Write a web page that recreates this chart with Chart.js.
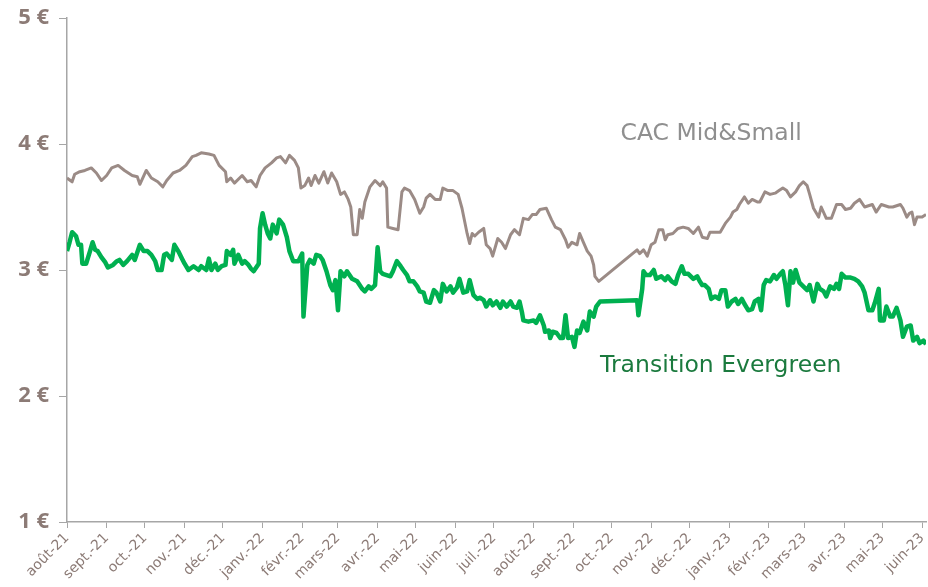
<!DOCTYPE html>
<html>
<head>
<meta charset="utf-8">
<script src="https://cdn.jsdelivr.net/npm/chart.js@4"></script>
<style>
  html, body { margin: 0; padding: 0; background: #fff; }
  #wrap { width: 928px; height: 587px; }
</style>
</head>
<body>
<div id="wrap"><canvas id="chart"></canvas></div>
<script>
// x = jours depuis le 1er août 2021
const monthDays = [0, 31, 61, 92, 122, 153, 184, 212, 243, 273, 304, 334, 365, 396, 426, 457, 487, 518, 549, 577, 608, 638, 669];
const monthLabels = ['août-21', 'sept.-21', 'oct.-21', 'nov.-21', 'déc.-21', 'janv.-22', 'févr.-22', 'mars-22', 'avr.-22', 'mai-22', 'juin-22',
  'juil.-22', 'août-22', 'sept.-22', 'oct.-22', 'nov.-22', 'déc.-22', 'janv.-23', 'févr.-23', 'mars-23', 'avr.-23', 'mai-23', 'juin-23'];
const yTicks = [1, 2, 3, 4, 5];

const cacDays = [0, 4, 6, 10, 14, 19, 23, 27, 31, 35, 40, 45, 51, 55, 57, 62, 66, 71, 75, 78, 83, 88, 93, 98, 101, 105, 111, 115, 119, 124,
  125, 128, 131, 137, 141, 144, 148, 151, 155, 160, 164, 167, 171, 174, 178, 181, 183, 186, 189, 191, 194, 197, 201, 204, 207, 211,
  214, 217, 220, 222, 224, 227, 229, 231, 233, 237, 241, 245, 247, 250, 251, 255, 259, 262, 264, 268, 272, 276, 279, 281, 284, 288,
  292, 294, 298, 302, 306, 309, 313, 315, 317, 319, 322, 326, 328, 331, 333, 337, 340, 343, 347, 350, 354, 357, 361, 364, 367, 370,
  375, 379, 382, 386, 390, 392, 395, 399, 401, 404, 407, 410, 412, 413, 416, 446, 448, 451, 454, 457, 460, 463, 466, 468, 470, 474,
  478, 482, 486, 490, 494, 497, 501, 503, 507, 511, 515, 519, 521, 524, 526, 530, 533, 536, 540, 542, 546, 550, 554, 557, 560, 563,
  566, 570, 573, 576, 579, 581, 584, 588, 590, 594, 598, 602, 606, 609, 613, 616, 620, 624, 630, 633, 637, 643, 646, 652, 654, 657,
  659, 661, 663, 665, 669, 672];
const cacValues = [3.73, 3.70, 3.76, 3.78, 3.79, 3.81, 3.77, 3.71, 3.75, 3.81, 3.83, 3.79, 3.75, 3.74, 3.68, 3.79, 3.73, 3.70, 3.66, 3.71,
  3.77, 3.79, 3.83, 3.90, 3.91, 3.93, 3.92, 3.91, 3.83, 3.78, 3.70, 3.73, 3.69, 3.75, 3.70, 3.71, 3.66, 3.75, 3.81, 3.85, 3.89, 3.90,
  3.85, 3.91, 3.87, 3.81, 3.65, 3.67, 3.73, 3.67, 3.75, 3.69, 3.78, 3.69, 3.77, 3.70, 3.60, 3.62, 3.56, 3.50, 3.28, 3.28, 3.48, 3.41,
  3.54, 3.66, 3.71, 3.67, 3.70, 3.65, 3.34, 3.33, 3.32, 3.62, 3.65, 3.63, 3.56, 3.45, 3.50, 3.57, 3.60, 3.56, 3.56, 3.65, 3.63, 3.63,
  3.60, 3.49, 3.29, 3.21, 3.29, 3.27, 3.30, 3.33, 3.20, 3.17, 3.11, 3.25, 3.22, 3.17, 3.28, 3.32, 3.28, 3.41, 3.40, 3.44, 3.44, 3.48,
  3.49, 3.40, 3.34, 3.32, 3.24, 3.18, 3.22, 3.20, 3.29, 3.22, 3.15, 3.11, 3.04, 2.95, 2.91, 3.16, 3.13, 3.16, 3.11, 3.20, 3.22, 3.32,
  3.32, 3.24, 3.28, 3.29, 3.33, 3.34, 3.33, 3.29, 3.34, 3.26, 3.25, 3.30, 3.30, 3.30, 3.37, 3.42, 3.46, 3.48, 3.52, 3.58, 3.53, 3.56,
  3.54, 3.54, 3.62, 3.60, 3.61, 3.63, 3.65, 3.63, 3.58, 3.62, 3.67, 3.70, 3.67, 3.60, 3.49, 3.42, 3.50, 3.41, 3.41, 3.52, 3.52, 3.48,
  3.49, 3.53, 3.56, 3.50, 3.52, 3.46, 3.52, 3.50, 3.50, 3.52, 3.49, 3.42, 3.45, 3.46, 3.36, 3.42, 3.42, 3.44];

const evgDays = [0, 2, 4, 7, 9, 11, 12, 15, 18, 20, 22, 24, 27, 30, 32, 36, 39, 41, 44, 47, 51, 53, 57, 60, 63, 66, 69, 71, 74, 76, 78,
  82, 84, 87, 90, 92, 95, 99, 103, 105, 109, 111, 113, 116, 118, 121, 124, 125, 128, 130, 131, 134, 137, 139, 142, 144, 146, 150, 151,
  153, 155, 157, 159, 161, 164, 166, 169, 172, 174, 177, 181, 184, 185, 188, 190, 193, 195, 198, 200, 203, 206, 208, 210, 212, 214,
  217, 219, 223, 227, 231, 233, 236, 238, 241, 243, 245, 247, 250, 253, 255, 258, 261, 263, 266, 268, 271, 274, 276, 279, 281, 284,
  287, 289, 292, 294, 297, 300, 302, 305, 307, 310, 313, 315, 318, 321, 323, 326, 328, 331, 333, 336, 339, 341, 344, 347, 349, 352,
  354, 356, 357, 361, 365, 367, 370, 373, 374, 377, 378, 380, 383, 386, 388, 390, 392, 395, 397, 399, 401, 404, 407, 409, 412, 414,
  417, 446, 447, 450, 451, 453, 456, 459, 461, 465, 468, 470, 473, 476, 478, 481, 483, 486, 490, 493, 495, 497, 499, 502, 504, 507,
  510, 512, 515, 517, 520, 523, 525, 528, 530, 533, 536, 538, 541, 543, 545, 547, 550, 553, 555, 558, 560, 562, 564, 566, 568, 570,
  573, 576, 579, 581, 584, 587, 589, 592, 594, 597, 600, 602, 604, 606, 609, 613, 616, 619, 622, 624, 627, 630, 632, 635, 636, 639,
  641, 644, 646, 649, 652, 654, 657, 660, 662, 665, 667, 670, 672];
const evgValues = [3.15, 3.22, 3.30, 3.27, 3.20, 3.20, 3.05, 3.05, 3.15, 3.22, 3.16, 3.15, 3.10, 3.06, 3.02, 3.04, 3.07, 3.08, 3.04,
  3.07, 3.12, 3.08, 3.20, 3.15, 3.15, 3.12, 3.07, 3.00, 3.00, 3.12, 3.13, 3.08, 3.20, 3.15, 3.09, 3.05, 3.00, 3.03, 3.00, 3.03, 3.00,
  3.09, 3.00, 3.05, 3.00, 3.03, 3.04, 3.15, 3.12, 3.16, 3.05, 3.12, 3.05, 3.07, 3.04, 3.01, 2.99, 3.05, 3.33, 3.45, 3.36, 3.29, 3.25,
  3.36, 3.29, 3.40, 3.36, 3.26, 3.15, 3.07, 3.07, 3.13, 2.63, 3.04, 3.08, 3.05, 3.12, 3.11, 3.08, 2.99, 2.88, 2.84, 2.92, 2.68, 2.99,
  2.95, 2.99, 2.93, 2.91, 2.85, 2.83, 2.87, 2.85, 2.88, 3.18, 2.99, 2.97, 2.96, 2.95, 2.99, 3.07, 3.03, 3.00, 2.96, 2.91, 2.91, 2.87,
  2.83, 2.82, 2.75, 2.74, 2.84, 2.82, 2.75, 2.89, 2.83, 2.87, 2.82, 2.86, 2.93, 2.82, 2.83, 2.92, 2.80, 2.77, 2.78, 2.76, 2.71, 2.76,
  2.72, 2.75, 2.70, 2.75, 2.71, 2.75, 2.71, 2.70, 2.75, 2.66, 2.60, 2.59, 2.60, 2.58, 2.64, 2.56, 2.51, 2.52, 2.46, 2.51, 2.50, 2.46,
  2.46, 2.64, 2.46, 2.47, 2.39, 2.52, 2.50, 2.59, 2.52, 2.67, 2.63, 2.71, 2.75, 2.76, 2.64, 2.85, 2.99, 2.96, 2.96, 3.00, 2.93, 2.95,
  2.92, 2.95, 2.91, 2.89, 2.96, 3.03, 2.97, 2.97, 2.93, 2.95, 2.91, 2.88, 2.88, 2.85, 2.77, 2.79, 2.77, 2.84, 2.84, 2.71, 2.75, 2.77,
  2.73, 2.77, 2.73, 2.68, 2.69, 2.75, 2.77, 2.68, 2.88, 2.92, 2.91, 2.96, 2.93, 2.97, 2.99, 2.88, 2.72, 2.99, 2.90, 3.00, 2.90, 2.87,
  2.84, 2.88, 2.75, 2.89, 2.85, 2.83, 2.79, 2.87, 2.85, 2.89, 2.85, 2.97, 2.94, 2.94, 2.93, 2.91, 2.87, 2.82, 2.68, 2.68, 2.74, 2.85,
  2.60, 2.60, 2.71, 2.63, 2.63, 2.70, 2.60, 2.47, 2.55, 2.56, 2.44, 2.47, 2.42, 2.44, 2.41];

const axisColor = '#a6a6a6';
const labelColor = '#8c7b76';

function pts(days, vals) {
  return days.map((d, i) => ({ x: d, y: vals[i] }));
}

// noms des séries écrits dans le graphique
const seriesLabels = {
  id: 'seriesLabels',
  afterDatasetsDraw(chart) {
    const { ctx, scales } = chart;
    ctx.save();
    ctx.font = '23.5px "DejaVu Sans"';
    ctx.textBaseline = 'middle';
    ctx.textAlign = 'left';
    ctx.fillStyle = '#8f8f8f';
    ctx.fillText('CAC Mid&Small', scales.x.getPixelForValue(433), scales.y.getPixelForValue(4.08));
    ctx.fillStyle = '#1b7a3e';
    ctx.fillText('Transition Evergreen', scales.x.getPixelForValue(417), scales.y.getPixelForValue(2.24));
    ctx.restore();
  }
};

new Chart(document.getElementById('chart'), {
  type: 'line',
  data: {
    datasets: [
      {
        label: 'CAC Mid&Small',
        data: pts(cacDays, cacValues),
        borderColor: '#9b8b86',
        borderWidth: 3,
        pointRadius: 0,
        tension: 0,
        borderJoinStyle: 'round'
      },
      {
        label: 'Transition Evergreen',
        data: pts(evgDays, evgValues),
        borderColor: '#00b050',
        borderWidth: 4.5,
        pointRadius: 0,
        tension: 0,
        borderJoinStyle: 'round'
      }
    ]
  },
  options: {
    responsive: true,
    maintainAspectRatio: false,
    animation: false,
    layout: { padding: { top: 18, right: 2, left: 0, bottom: 0 } },
    plugins: { legend: { display: false }, tooltip: { enabled: false } },
    scales: {
      x: {
        type: 'linear',
        min: 0,
        max: 672,
        afterBuildTicks(scale) {
          scale.ticks = monthDays.map(d => ({ value: d }));
        },
        afterFit(scale) {
          scale.height = 65;
          scale.paddingLeft = 0;
          scale.paddingRight = 0;
        },
        ticks: {
          autoSkip: false,
          minRotation: 45,
          maxRotation: 45,
          color: labelColor,
          font: { family: 'DejaVu Sans', size: 14 },
          padding: 2,
          callback: (v) => monthLabels[monthDays.indexOf(v)]
        },
        grid: { drawOnChartArea: false, drawTicks: true, tickLength: 6, color: axisColor },
        border: { color: axisColor, width: 1.5 }
      },
      y: {
        min: 1,
        max: 5,
        afterBuildTicks(scale) {
          scale.ticks = yTicks.map(v => ({ value: v }));
        },
        afterFit(scale) {
          scale.width = 67;
          scale.paddingTop = 0;
          scale.paddingBottom = 0;
        },
        ticks: {
          color: labelColor,
          font: { family: 'Open Sans', size: 22, weight: 'bold' },
          padding: 10,
          callback: (v) => v + ' €'
        },
        grid: { drawOnChartArea: false, drawTicks: true, tickLength: 8, color: axisColor },
        border: { color: axisColor, width: 1.5 }
      }
    }
  },
  plugins: [seriesLabels]
});
</script>
</body>
</html>
